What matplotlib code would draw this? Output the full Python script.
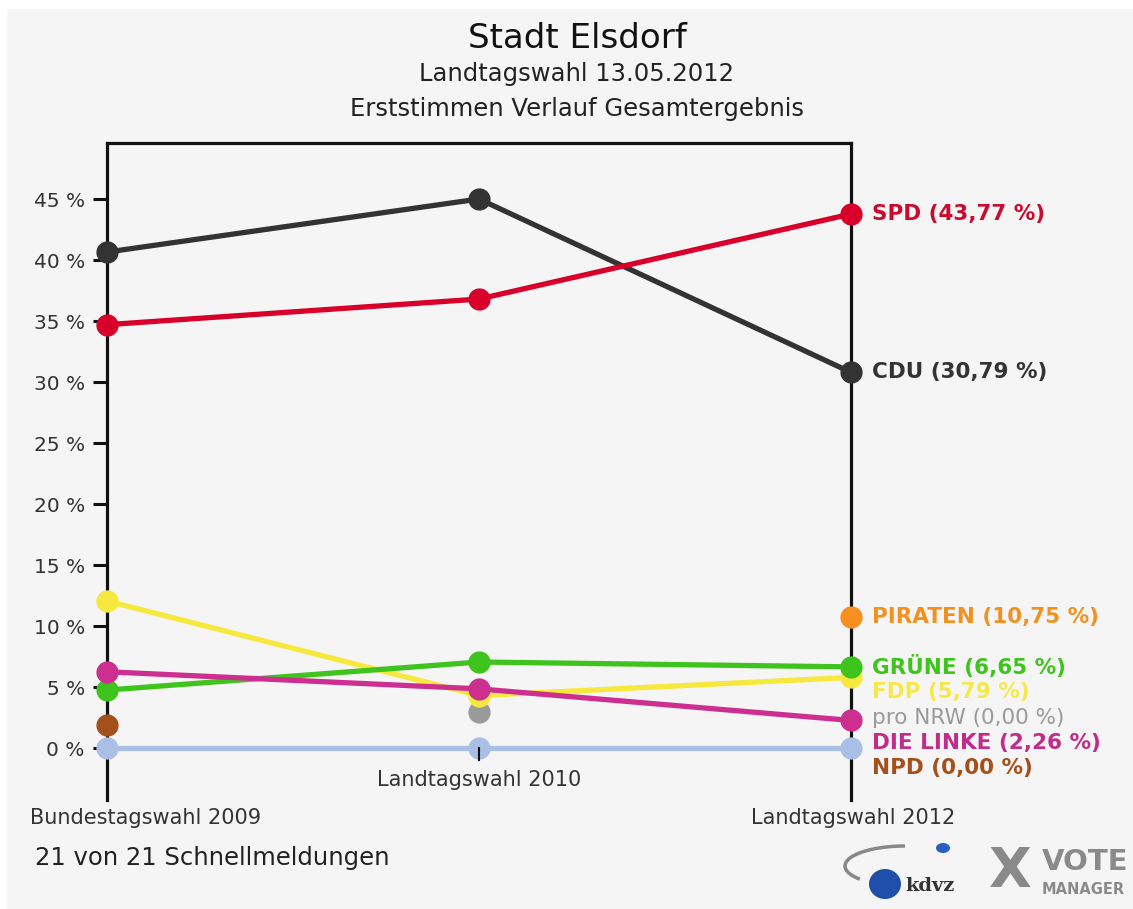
import matplotlib
matplotlib.use("Agg")
import matplotlib.pyplot as plt
import numpy as np
from matplotlib.patches import Rectangle, Ellipse, Arc

# ---------------- data ----------------
elections = ["Bundestagswahl 2009", "Landtagswahl 2010", "Landtagswahl 2012"]
nan = np.nan
sonstige = [0.0, 0.0, 0.0]
npd = [1.9, nan, nan]
pro_nrw = [nan, 2.95, nan]
fdp = [12.05, 4.3, 5.79]
gruene = [4.75, 7.05, 6.65]
linke = [6.25, 4.85, 2.26]
piraten = [nan, nan, 10.75]
cdu = [40.65, 45.0, 30.79]
spd = [34.7, 36.8, 43.77]

yticks = [0, 5, 10, 15, 20, 25, 30, 35, 40, 45]

# name, values, line colour, label colour, bold label, show label
series = [
    ("Sonstige", sonstige, "#a9bfe6", None, False, False),
    ("NPD", npd, "#a4501c", "#a4501c", True, True),
    ("pro NRW", pro_nrw, "#9a9a9a", "#9a9a9a", False, True),
    ("FDP", fdp, "#f7e83e", "#f7e84a", True, True),
    ("GRÜNE", gruene, "#3ec41c", "#3ec41c", True, True),
    ("DIE LINKE", linke, "#cc2f8f", "#c22b8a", True, True),
    ("PIRATEN", piraten, "#f7901e", "#f39020", True, True),
    ("CDU", cdu, "#333333", "#333333", True, True),
    ("SPD", spd, "#d8002a", "#cc0a2e", True, True),
]

W, H = 1133, 909
fig = plt.figure(figsize=(W / 100, H / 100), dpi=100)
fig.patch.set_facecolor("white")
fig.patches.append(Rectangle((7 / W, 0), 1 - 7 / W, 1 - 9 / H, transform=fig.transFigure,
                             facecolor="#f5f5f5", edgecolor="none", zorder=-10))

def px(x):
    return x / W

def py(y):
    return 1 - y / H

ax = fig.add_axes([px(107), py(800), px(851) - px(107), py(143) - py(800)])
ax.set_zorder(1)
ax.set_facecolor("none")
ax.set_xlim(0, 2)
ax.set_ylim(-4.26, 49.59)

x = np.arange(len(elections))
for i, (name, vals, col, lcol, bold, show) in enumerate(series):
    v = np.array(vals, dtype=float)
    ax.plot(x, v, color=col, lw=3.8, marker="o", ms=15, mec=col, mfc=col,
            clip_on=False, zorder=3 + i, solid_capstyle="round")

for s in ["left", "right", "top"]:
    ax.spines[s].set_linewidth(2.3)
    ax.spines[s].set_color("#111111")
    ax.spines[s].set_zorder(2)
ax.spines["bottom"].set_visible(False)

ax.set_yticks(yticks)
ax.set_yticklabels([f"{t} %" for t in yticks], fontsize=14.5, color="#333333",
                   family="DejaVu Sans")
ax.tick_params(axis="y", length=10, width=2.2, color="#111111", pad=6)
ax.set_xticks([])

# small tick for the middle election
ax.plot([1, 1], [0, -1.0], color="#111111", lw=1.5, zorder=20, clip_on=False)

# x labels
fig.text(px(30), py(818), elections[0], ha="left", va="center", fontsize=15, color="#333333")
fig.text(px(479), py(780), elections[1], ha="center", va="center", fontsize=15, color="#333333")
fig.text(px(853), py(818), elections[2], ha="center", va="center", fontsize=15, color="#333333")

# end labels: ordered by last available value, placed top-down without overlap
gap = 2.08
labelled = []
for name, vals, col, lcol, bold, show in series:
    if not show:
        continue
    v = np.array(vals, dtype=float)
    last = v[~np.isnan(v)][-1]
    cur = 0.0 if np.isnan(v[-1]) else v[-1]
    labelled.append((last, name, cur, lcol, bold))
labelled.sort(key=lambda t: -t[0])
prev = None
for last, name, cur, lcol, bold in labelled:
    ypos = last if prev is None else min(last, prev - gap)
    prev = ypos
    txt = f"{name} ({cur:.2f} %)".replace(".", ",")
    ax.annotate(txt, xy=(2, ypos), xytext=(15, 0), textcoords="offset points",
                va="center", ha="left", fontsize=15.5, color=lcol,
                fontweight="bold" if bold else "normal", annotation_clip=False)

# titles
fig.text(0.5 + px(11), py(38), "Stadt Elsdorf", ha="center", va="center", fontsize=24.5, color="#111111")
fig.text(0.5 + px(10), py(74), "Landtagswahl 13.05.2012", ha="center", va="center", fontsize=17.5, color="#222222")
fig.text(0.5 + px(10), py(109), "Erststimmen Verlauf Gesamtergebnis", ha="center", va="center", fontsize=17.5, color="#222222")
fig.text(px(35), py(858), "21 von 21 Schnellmeldungen", ha="left", va="center", fontsize=17.5, color="#222222")

# logo (kdvz / VOTE MANAGER)
fig.patches.append(Ellipse((px(885), py(884)), px(32), 30 / H, transform=fig.transFigure,
                           facecolor="#1f4fa8", edgecolor="none", zorder=5))
fig.patches.append(Ellipse((px(943), py(848)), px(14), 10 / H, transform=fig.transFigure,
                           facecolor="#2a5fc0", edgecolor="none", zorder=5))
fig.patches.append(Arc((px(905), py(866)), px(120), 40 / H, theta1=90, theta2=200,
                       transform=fig.transFigure, color="#888888", lw=2.5, zorder=5))
fig.text(px(905), py(886), "kdvz", ha="left", va="center", fontsize=14, fontweight="bold",
         family="DejaVu Serif", color="#333333")
fig.text(px(1010), py(872), "X", ha="center", va="center", fontsize=40, fontweight="bold",
         color="#8a8a8a")
fig.text(px(1042), py(862), "VOTE", ha="left", va="center", fontsize=21, fontweight="bold",
         color="#8a8a8a")
fig.text(px(1042), py(889), "MANAGER", ha="left", va="center", fontsize=10.5, fontweight="bold",
         color="#8a8a8a")

fig.savefig("out.png", dpi=100, facecolor=fig.get_facecolor())
